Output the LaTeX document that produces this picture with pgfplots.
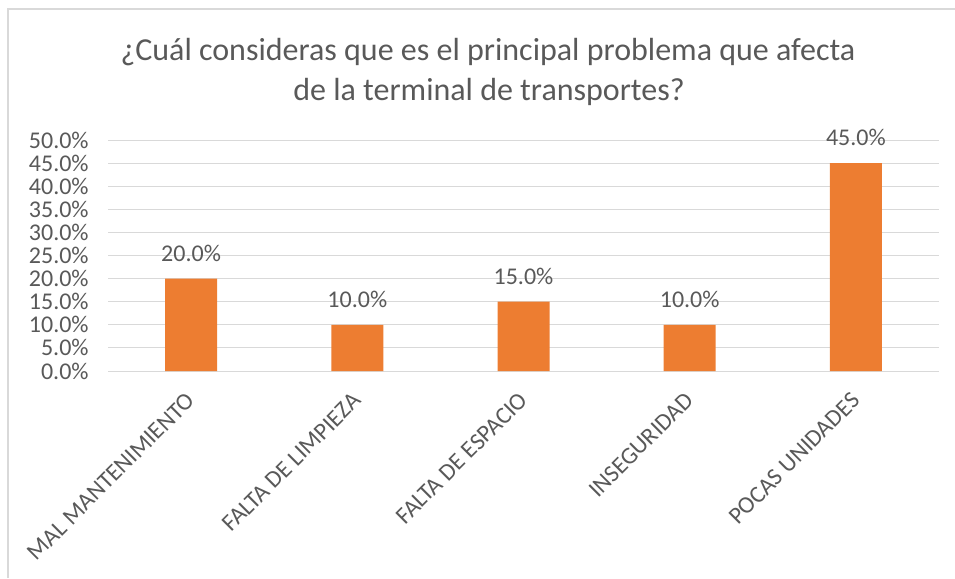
\documentclass[border=0pt]{standalone}
\usepackage{fontspec}
\setmainfont{Carlito}
\usepackage{pgfplots}
\pgfplotsset{compat=1.18}
\definecolor{barorange}{HTML}{ED7D31}
\definecolor{txtgray}{HTML}{595959}
\definecolor{gridgray}{HTML}{D9D9D9}

\begin{document}
\begin{tikzpicture}
% layout in screen pixels (1px = 0.75pt, y downwards)
\begin{scope}[x=0.75pt,y=-0.75pt]
  \useasboundingbox (0,0) rectangle (955,578);
  \draw[gridgray, line width=0.9pt] (8,578) -- (8,9) -- (955,9);
  \node[anchor=base, text=txtgray, font=\fontsize{24}{29}\selectfont, inner sep=0pt]
    at (488,60) {¿Cuál consideras que es el principal problema que afecta};
  \node[anchor=base, text=txtgray, font=\fontsize{24}{29}\selectfont, inner sep=0pt]
    at (489,100) {de la terminal de transportes?};
  \coordinate (O) at (108,371);
\end{scope}

\begin{axis}[
    at={(O)}, anchor=south west,
    scale only axis,
    width=623.25pt, height=173.25pt,
    xmin=-0.5, xmax=4.5,
    ymin=0, ymax=50,
    xtick={0,1,2,3,4},
    xticklabels={MAL MANTENIMIENTO, FALTA DE LIMPIEZA, FALTA DE ESPACIO, INSEGURIDAD, POCAS UNIDADES},
    ytick={0,5,...,50},
    ymajorgrids=true,
    grid style={gridgray, line width=0.75pt},
    axis line style={draw=none},
    major tick length=0pt,
    /pgf/number format/assume math mode=true,
    tick label style={text=txtgray, font=\fontsize{18}{21}\selectfont},
    yticklabel={\pgfmathprintnumber[fixed,fixed zerofill,precision=1]{\tick}\%},
    yticklabel style={xshift=-11pt},
    xticklabel style={anchor=east, inner sep=3pt, yshift=-17pt, xshift=2pt, rotate=45},
    ybar, bar width=39pt,
    nodes near coords={\pgfmathprintnumber[fixed,fixed zerofill,precision=1]{\pgfplotspointmeta}\%},
    every node near coord/.append style={anchor=base, yshift=13pt, text=txtgray, font=\fontsize{18}{21}\selectfont},
]
\addplot[fill=barorange, draw=none] coordinates {
    (0,20) (1,10) (2,15) (3,10) (4,45)
};
\end{axis}
\end{tikzpicture}
\end{document}
